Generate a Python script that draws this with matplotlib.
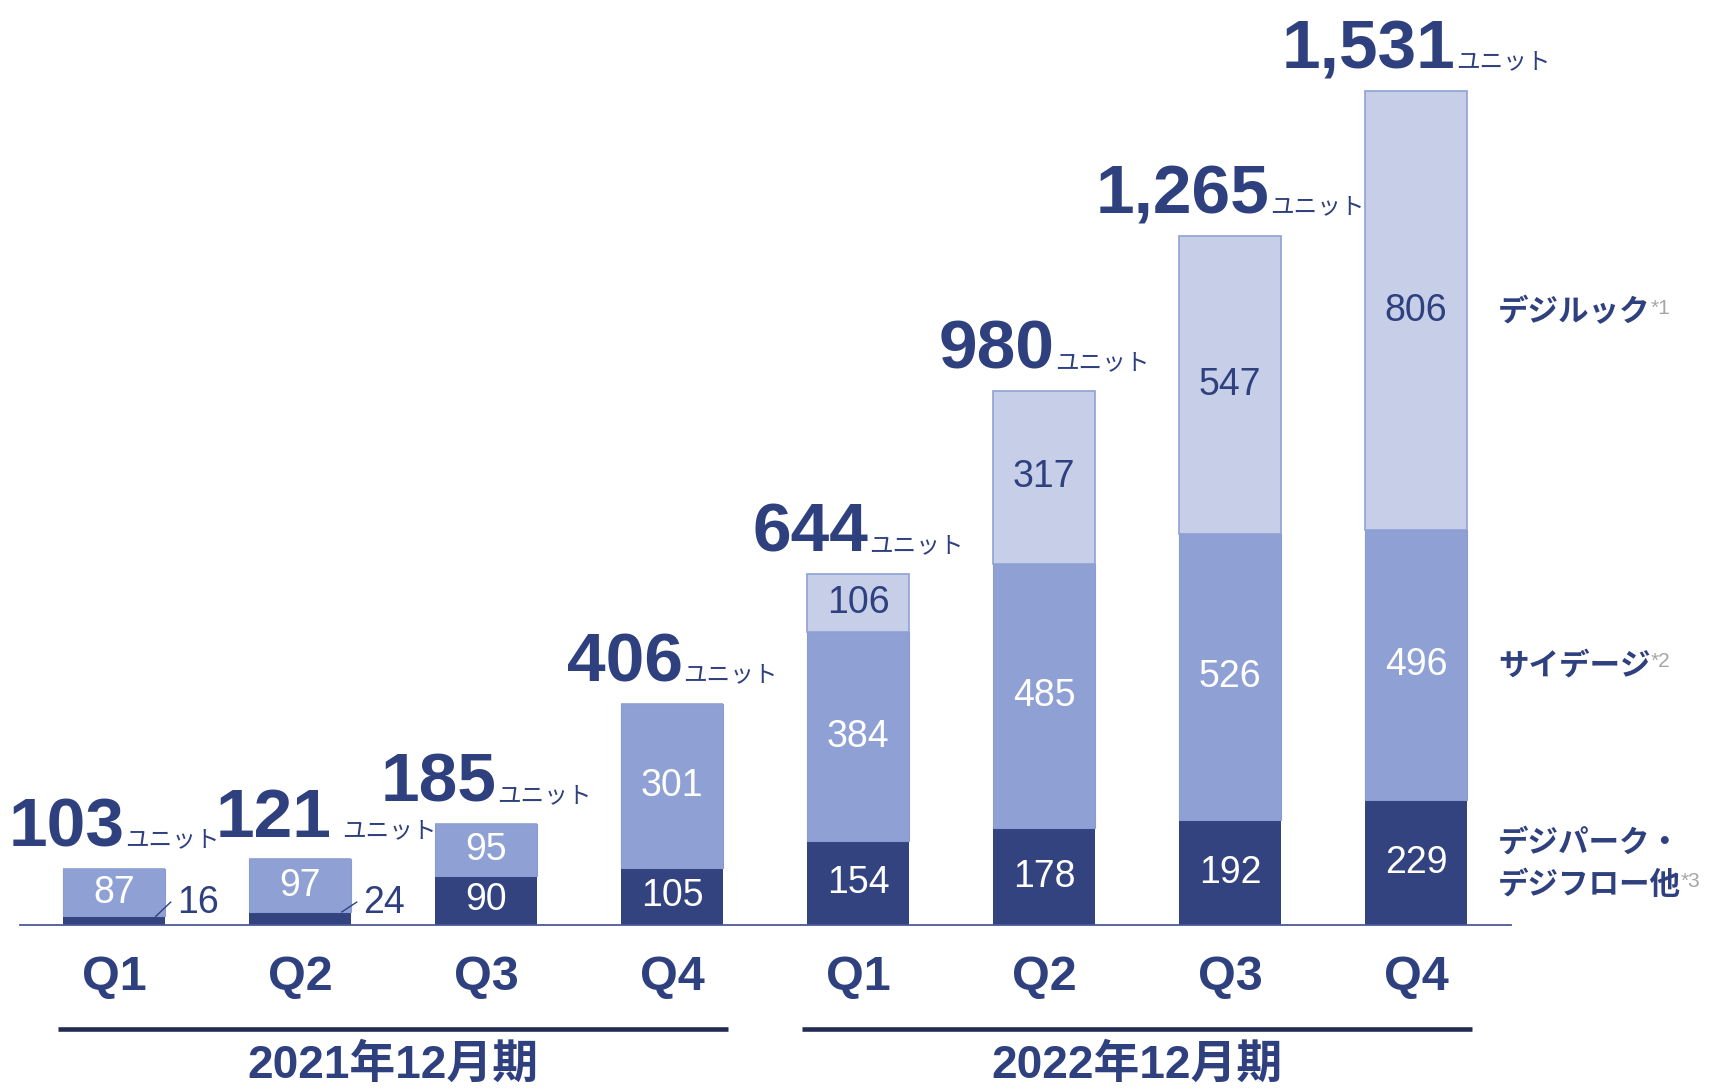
import matplotlib.pyplot as plt
from matplotlib.offsetbox import TextArea, HPacker, AnnotationBbox

# data
quarters = ['Q1', 'Q2', 'Q3', 'Q4', 'Q1', 'Q2', 'Q3', 'Q4']
years = ['2021年12月期', '2022年12月期']
digipark = [16, 24, 90, 105, 154, 178, 192, 229]     # デジパーク・デジフロー他
saidage = [87, 97, 95, 301, 384, 485, 526, 496]      # サイデージ
digiluck = [0, 0, 0, 0, 106, 317, 547, 806]          # デジルック
totals = [103, 121, 185, 406, 644, 980, 1265, 1531]
series_names = ['デジパーク・\nデジフロー他', 'サイデージ', 'デジルック']
notes = ['*3', '*2', '*1']

NAVY = '#33437f'
MID = '#8fa1d4'
LIGHT = '#c6cee8'
TEXT = '#2f407f'
GREY = '#a6a6a6'
NUM_FONT = ['Liberation Sans', 'DejaVu Sans']
JP_FONT = ['Noto Sans CJK JP', 'DejaVu Sans']
MIX_FONT = ['Liberation Sans', 'Noto Sans CJK JP']

fig = plt.figure(figsize=(17.17, 10.9), dpi=100)
ax = fig.add_axes([20 / 1717, 165 / 1090, 1491 / 1717, 925 / 1090])

x = list(range(len(quarters)))
w = 0.55
bottom2 = [a + b for a, b in zip(digipark, saidage)]

ax.bar(x, digipark, width=w, color=NAVY, zorder=2)
ax.bar(x, saidage, width=w, bottom=digipark, color=MID,
       edgecolor='#8a9bd0', linewidth=0.8, zorder=2)
ax.bar(x, digiluck, width=w, bottom=bottom2, color=LIGHT,
       edgecolor=MID, linewidth=1.2, zorder=2)

ax.set_xlim(-0.505, 7.51)
ax.set_ylim(0, 1698)
for s in ['top', 'left', 'right']:
    ax.spines[s].set_visible(False)
ax.spines['bottom'].set_color('#4a5a95')
ax.spines['bottom'].set_linewidth(1.3)
ax.spines['bottom'].set_zorder(3)
ax.set_xticks([])
ax.set_yticks([])

# segment values
for i in x:
    if digipark[i] >= 50:
        ax.text(i, digipark[i] / 2, str(digipark[i]), ha='center', va='center',
                color='white', fontsize=27, family=NUM_FONT)
    else:
        # small value: label outside with a short leader line
        ax.plot([i + 0.225, i + 0.305], [digipark[i], 42], color=TEXT,
                lw=1, zorder=3, clip_on=False)
        ax.text(i + 0.34, 40, str(digipark[i]), ha='left', va='center',
                color=TEXT, fontsize=27, family=NUM_FONT)
    ax.text(i, digipark[i] + saidage[i] / 2, str(saidage[i]), ha='center',
            va='center', color='white', fontsize=27, family=NUM_FONT)
    if digiluck[i] > 0:
        ax.text(i, bottom2[i] + digiluck[i] / 2, str(digiluck[i]), ha='center',
                va='center', color=TEXT, fontsize=27, family=NUM_FONT)

# totals with unit
for i in x:
    num = TextArea(f'{totals[i]:,}', textprops=dict(
        color=TEXT, fontsize=50, fontweight='bold', family=NUM_FONT))
    unit = TextArea('ユニット', textprops=dict(
        color=TEXT, fontsize=17, family=JP_FONT))
    box = HPacker(children=[num, unit], align='baseline', pad=0,
                  sep=8 if i == 1 else 0)
    shift = 0.14 if i == 1 else 0
    ab = AnnotationBbox(box, (i + shift, totals[i]), xybox=(0, 6),
                        boxcoords='offset points', box_alignment=(0.5, 0),
                        frameon=False, pad=0, annotation_clip=False)
    ax.add_artist(ab)

# quarter labels
for i in x:
    ax.text(i, -97, quarters[i], ha='center', va='center', color=TEXT,
            fontsize=35, fontweight='bold', family=NUM_FONT, clip_on=False)

# fiscal year lines and labels
for k, yr in enumerate(years):
    x0 = 4 * k - 0.3
    x1 = 4 * k + 3 + 0.3
    ax.plot([x0, x1], [-191, -191], color='#222b52', lw=3.3,
            solid_capstyle='butt', clip_on=False)
    ax.text(4 * k + 1.5, -258, yr, ha='center', va='center', color=TEXT,
            fontsize=33, fontweight='bold', family=MIX_FONT, clip_on=False)

# series names at right
label_y = [73, 477, 1125]
for name, note, yy in zip(series_names, notes, label_y):
    lines = name.split('\n')
    if len(lines) == 2:
        ax.text(7.44, yy + 78, lines[0], ha='left', va='center', color=TEXT,
                fontsize=22, fontweight='bold', family=JP_FONT, clip_on=False)
        t = ax.text(7.44, yy, lines[1], ha='left', va='center', color=TEXT,
                    fontsize=22, fontweight='bold', family=JP_FONT, clip_on=False)
    else:
        t = ax.text(7.44, yy, name, ha='left', va='center', color=TEXT,
                    fontsize=22, fontweight='bold', family=JP_FONT, clip_on=False)
    ax.annotate(note, xy=(1, 0.9), xycoords=t, ha='left', va='top',
                color=GREY, fontsize=15, family=NUM_FONT)

fig.savefig('out.png', dpi=100)
